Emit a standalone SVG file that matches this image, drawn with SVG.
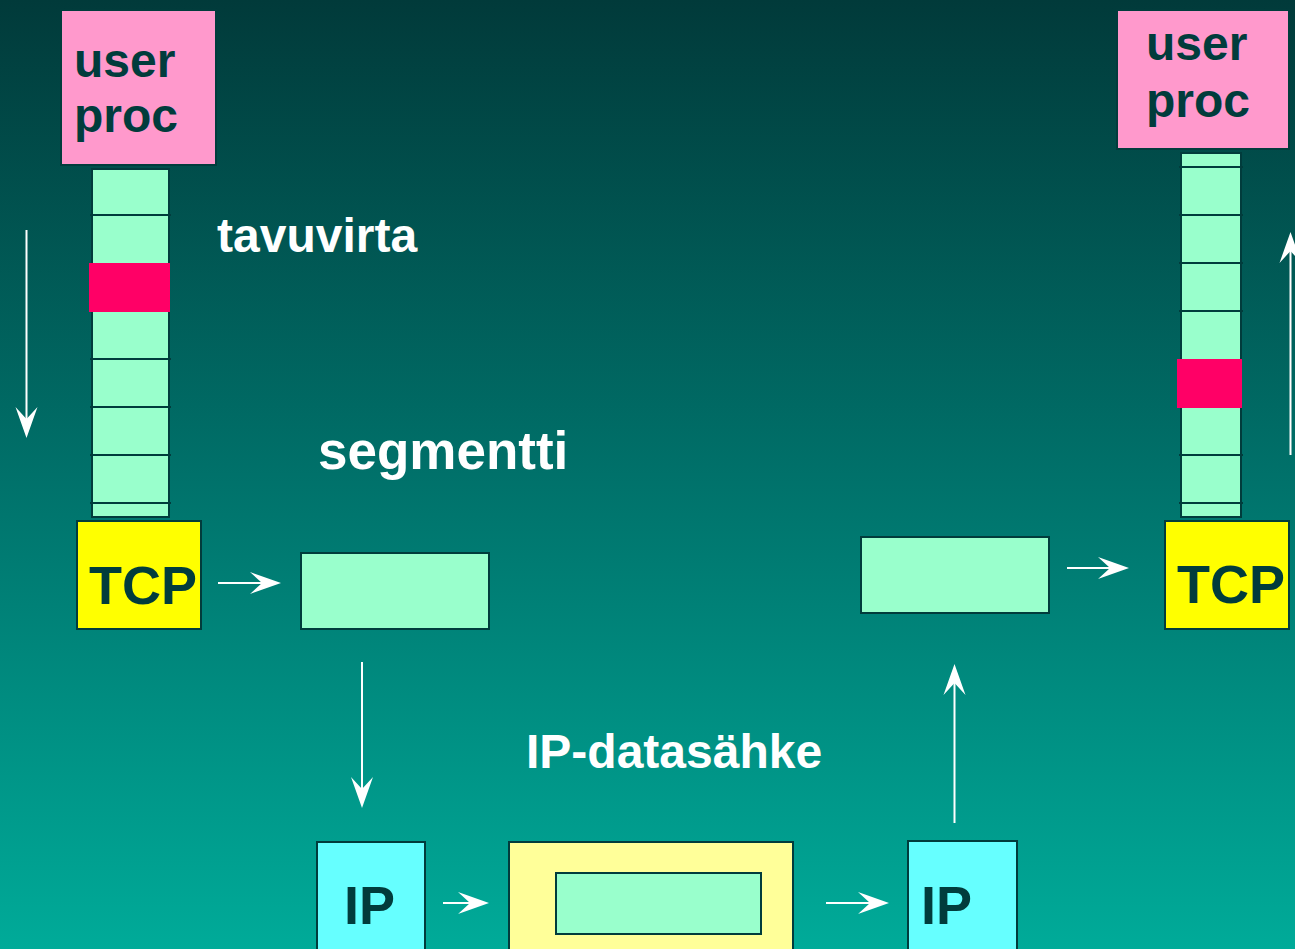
<svg xmlns="http://www.w3.org/2000/svg" width="1295" height="949" viewBox="0 0 1295 949">
  <defs>
    <linearGradient id="bg" x1="0" y1="0" x2="0" y2="1">
      <stop offset="0" stop-color="#013a3a"/>
      <stop offset="0.5" stop-color="#00716a"/>
      <stop offset="1" stop-color="#00ab99"/>
    </linearGradient>
    <!-- notched white arrowhead; refX at the notch so the shaft ends inside the head -->
    <marker id="head" markerUnits="userSpaceOnUse" viewBox="-19 -12 33 24" markerWidth="33" markerHeight="24" refX="0" refY="0" orient="auto" overflow="visible">
      <path d="M12,0 L-19,-11 L-7,0 L-19,11 Z" fill="#ffffff"/>
    </marker>
    <style>
      .box { stroke: #013c3c; stroke-width: 2; }
      .user { fill: #ff99cc; }
      .tcp { fill: #ffff00; }
      .ip { fill: #66ffff; }
      .seg { fill: #99ffcc; }
      .frame { fill: #ffff99; }
      .red { fill: #ff0066; }
      .cell { stroke: #013c3c; stroke-width: 2; }
      .dark { font-family: "Liberation Sans", Arial, sans-serif; font-weight: bold; fill: #013c3c; }
      .label { font-family: "Liberation Sans", Arial, sans-serif; font-weight: bold; fill: #ffffff; }
      .arrow { stroke: #ffffff; stroke-width: 2; fill: none; marker-end: url(#head); }
    </style>
  </defs>

  <rect x="0" y="0" width="1295" height="949" fill="url(#bg)"/>

  <!-- sending side -->
  <g id="user-left">
    <rect class="box user" x="61" y="10" width="155" height="155"/>
    <text class="dark" x="74" y="77" font-size="48">user</text>
    <text class="dark" x="74" y="132" font-size="48">proc</text>
  </g>

  <g id="stream-left">
    <rect class="box seg" x="92" y="169" width="77" height="348"/>
    <line class="cell" x1="90" y1="215" x2="171" y2="215"/>
    <line class="cell" x1="90" y1="359" x2="171" y2="359"/>
    <line class="cell" x1="90" y1="407" x2="171" y2="407"/>
    <line class="cell" x1="90" y1="455" x2="171" y2="455"/>
    <line class="cell" x1="90" y1="503" x2="171" y2="503"/>
    <rect class="red" x="89" y="263" width="81" height="49"/>
  </g>

  <g id="tcp-left">
    <rect class="box tcp" x="77" y="521" width="124" height="108"/>
    <text class="dark" x="89" y="604" font-size="54">TCP</text>
  </g>

  <g id="segment-left">
    <rect class="box seg" x="301" y="553" width="188" height="76"/>
  </g>

  <g id="ip-left">
    <rect class="box ip" x="317" y="842" width="108" height="110"/>
    <text class="dark" x="344" y="924" font-size="54">IP</text>
  </g>

  <g id="datagram">
    <rect class="box frame" x="509" y="842" width="284" height="110"/>
    <rect class="box seg" x="556" y="873" width="205" height="61"/>
  </g>

  <!-- receiving side -->
  <g id="ip-right">
    <rect class="box ip" x="908" y="841" width="109" height="111"/>
    <text class="dark" x="921" y="924" font-size="54">IP</text>
  </g>

  <g id="segment-right">
    <rect class="box seg" x="861" y="537" width="188" height="76"/>
  </g>

  <g id="tcp-right">
    <rect class="box tcp" x="1165" y="521" width="124" height="108"/>
    <text class="dark" x="1177" y="603" font-size="54">TCP</text>
  </g>

  <g id="stream-right">
    <rect class="box seg" x="1181" y="153" width="60" height="364"/>
    <line class="cell" x1="1179" y1="167" x2="1243" y2="167"/>
    <line class="cell" x1="1179" y1="215" x2="1243" y2="215"/>
    <line class="cell" x1="1179" y1="263" x2="1243" y2="263"/>
    <line class="cell" x1="1179" y1="311" x2="1243" y2="311"/>
    <line class="cell" x1="1179" y1="455" x2="1243" y2="455"/>
    <line class="cell" x1="1179" y1="503" x2="1243" y2="503"/>
    <rect class="red" x="1177" y="359" width="65" height="49"/>
  </g>

  <g id="user-right">
    <rect class="box user" x="1117" y="10" width="172" height="139"/>
    <text class="dark" x="1146" y="60" font-size="48">user</text>
    <text class="dark" x="1146" y="117" font-size="48">proc</text>
  </g>

  <!-- labels -->
  <g id="labels">
    <text class="label" x="217" y="252" font-size="48">tavuvirta</text>
    <text class="label" x="318" y="469" font-size="53">segmentti</text>
    <text class="label" x="526" y="768" font-size="48">IP-datasähke</text>
  </g>

  <!-- connectors -->
  <g id="connectors">
    <line class="arrow" x1="26.5" y1="230" x2="26.5" y2="426"/>
    <line class="arrow" x1="218" y1="583" x2="269" y2="583"/>
    <line class="arrow" x1="362" y1="662" x2="362" y2="796"/>
    <line class="arrow" x1="443" y1="903" x2="477" y2="903"/>
    <line class="arrow" x1="826" y1="903" x2="877" y2="903"/>
    <line class="arrow" x1="954.5" y1="823" x2="954.5" y2="676"/>
    <line class="arrow" x1="1067" y1="568" x2="1117" y2="568"/>
    <line class="arrow" x1="1290.5" y1="455" x2="1290.5" y2="244"/>
  </g>
</svg>
